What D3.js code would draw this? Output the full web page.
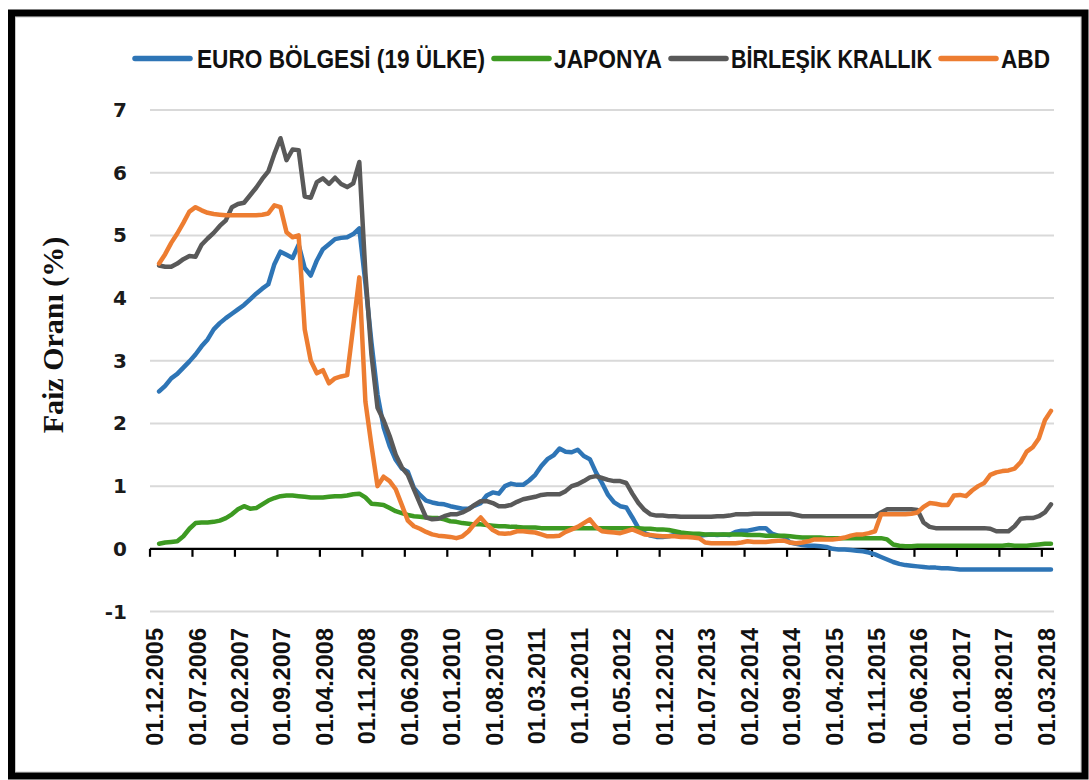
<!DOCTYPE html>
<html><head><meta charset="utf-8">
<script src="https://cdn.jsdelivr.net/npm/d3@7"></script>
<style>html,body{margin:0;padding:0;background:#fff;} svg{display:block}</style>
</head><body>
<svg id="chart" width="1089" height="780"></svg>
<script>
const categories = [
"01.12.2005",
"01.01.2006","01.02.2006","01.03.2006","01.04.2006","01.05.2006","01.06.2006","01.07.2006","01.08.2006","01.09.2006","01.10.2006","01.11.2006","01.12.2006",
"01.01.2007","01.02.2007","01.03.2007","01.04.2007","01.05.2007","01.06.2007","01.07.2007","01.08.2007","01.09.2007","01.10.2007","01.11.2007","01.12.2007",
"01.01.2008","01.02.2008","01.03.2008","01.04.2008","01.05.2008","01.06.2008","01.07.2008","01.08.2008","01.09.2008","01.10.2008","01.11.2008","01.12.2008",
"01.01.2009","01.02.2009","01.03.2009","01.04.2009","01.05.2009","01.06.2009","01.07.2009","01.08.2009","01.09.2009","01.10.2009","01.11.2009","01.12.2009",
"01.01.2010","01.02.2010","01.03.2010","01.04.2010","01.05.2010","01.06.2010","01.07.2010","01.08.2010","01.09.2010","01.10.2010","01.11.2010","01.12.2010",
"01.01.2011","01.02.2011","01.03.2011","01.04.2011","01.05.2011","01.06.2011","01.07.2011","01.08.2011","01.09.2011","01.10.2011","01.11.2011","01.12.2011",
"01.01.2012","01.02.2012","01.03.2012","01.04.2012","01.05.2012","01.06.2012","01.07.2012","01.08.2012","01.09.2012","01.10.2012","01.11.2012","01.12.2012",
"01.01.2013","01.02.2013","01.03.2013","01.04.2013","01.05.2013","01.06.2013","01.07.2013","01.08.2013","01.09.2013","01.10.2013","01.11.2013","01.12.2013",
"01.01.2014","01.02.2014","01.03.2014","01.04.2014","01.05.2014","01.06.2014","01.07.2014","01.08.2014","01.09.2014","01.10.2014","01.11.2014","01.12.2014",
"01.01.2015","01.02.2015","01.03.2015","01.04.2015","01.05.2015","01.06.2015","01.07.2015","01.08.2015","01.09.2015","01.10.2015","01.11.2015","01.12.2015",
"01.01.2016","01.02.2016","01.03.2016","01.04.2016","01.05.2016","01.06.2016","01.07.2016","01.08.2016","01.09.2016","01.10.2016","01.11.2016","01.12.2016",
"01.01.2017","01.02.2017","01.03.2017","01.04.2017","01.05.2017","01.06.2017","01.07.2017","01.08.2017","01.09.2017","01.10.2017","01.11.2017","01.12.2017",
"01.01.2018","01.02.2018","01.03.2018","01.04.2018"
];

const tickLabels = ["01.12.2005","01.07.2006","01.02.2007","01.09.2007","01.04.2008","01.11.2008",
"01.06.2009","01.01.2010","01.08.2010","01.03.2011","01.10.2011","01.05.2012","01.12.2012",
"01.07.2013","01.02.2014","01.09.2014","01.04.2015","01.11.2015","01.06.2016","01.01.2017",
"01.08.2017","01.03.2018"];

const yTicks = [-1, 0, 1, 2, 3, 4, 5, 6, 7];

const seriesNames = ["EURO BÖLGESİ (19 ÜLKE)", "JAPONYA", "BİRLEŞİK KRALLIK", "ABD"];

const euro = [null,
2.51,2.60,2.72,2.79,2.89,2.99,3.10,3.23,3.34,3.50,3.60,3.68,
3.75,3.82,3.89,3.98,4.07,4.15,4.22,4.54,4.74,4.69,4.64,4.85,
4.48,4.36,4.60,4.78,4.86,4.94,4.96,4.97,5.02,5.11,4.24,3.29,
2.46,1.94,1.64,1.42,1.28,1.23,0.97,0.86,0.77,0.74,0.72,0.71,
0.68,0.66,0.64,0.64,0.69,0.73,0.85,0.90,0.88,1.00,1.04,1.02,
1.02,1.09,1.18,1.32,1.43,1.49,1.60,1.55,1.54,1.58,1.48,1.43,
1.22,1.05,0.86,0.74,0.68,0.66,0.50,0.33,0.25,0.21,0.19,0.19,
0.20,0.22,0.21,0.21,0.20,0.21,0.22,0.23,0.22,0.23,0.22,0.27,
0.29,0.29,0.31,0.33,0.33,0.24,0.21,0.19,0.10,0.08,0.06,0.05,
0.05,0.04,0.03,0.00,-0.01,-0.01,-0.02,-0.03,-0.04,-0.06,-0.09,-0.13,
-0.17,-0.21,-0.24,-0.26,-0.27,-0.28,-0.29,-0.30,-0.30,-0.31,-0.31,-0.32,
-0.33,-0.33,-0.33,-0.33,-0.33,-0.33,-0.33,-0.33,-0.33,-0.33,-0.33,-0.33,
-0.33,-0.33,-0.33,-0.33];

const japan = [null,
0.08,0.10,0.11,0.12,0.20,0.32,0.41,0.42,0.42,0.43,0.45,0.49,
0.55,0.63,0.68,0.64,0.65,0.71,0.77,0.81,0.84,0.85,0.85,0.84,
0.83,0.82,0.82,0.82,0.83,0.84,0.84,0.85,0.87,0.88,0.82,0.72,
0.71,0.70,0.65,0.60,0.57,0.54,0.52,0.51,0.50,0.49,0.49,0.47,
0.44,0.43,0.41,0.40,0.39,0.39,0.38,0.37,0.36,0.36,0.35,0.35,
0.34,0.34,0.34,0.33,0.33,0.33,0.33,0.33,0.33,0.33,0.33,0.33,
0.33,0.33,0.33,0.33,0.33,0.33,0.33,0.33,0.32,0.32,0.31,0.31,
0.30,0.28,0.26,0.25,0.24,0.24,0.23,0.23,0.23,0.23,0.23,0.23,
0.23,0.22,0.22,0.22,0.21,0.21,0.21,0.21,0.20,0.19,0.18,0.18,
0.18,0.18,0.17,0.17,0.17,0.17,0.17,0.17,0.17,0.17,0.17,0.17,
0.15,0.07,0.05,0.04,0.04,0.05,0.05,0.05,0.05,0.05,0.05,0.05,
0.05,0.05,0.05,0.05,0.05,0.05,0.05,0.05,0.06,0.05,0.05,0.05,
0.06,0.07,0.08,0.08];

const uk = [null,
4.52,4.50,4.50,4.55,4.62,4.67,4.66,4.85,4.95,5.04,5.15,5.24,
5.45,5.50,5.52,5.64,5.76,5.90,6.02,6.30,6.55,6.20,6.37,6.36,
5.62,5.60,5.85,5.91,5.82,5.92,5.82,5.77,5.83,6.17,4.40,3.10,
2.25,2.05,1.80,1.50,1.30,1.18,0.95,0.72,0.50,0.47,0.48,0.52,
0.55,0.55,0.58,0.63,0.70,0.76,0.76,0.73,0.68,0.68,0.70,0.75,
0.79,0.81,0.83,0.86,0.87,0.87,0.87,0.92,1.00,1.03,1.08,1.14,
1.16,1.13,1.10,1.08,1.08,1.05,0.88,0.73,0.62,0.55,0.53,0.53,
0.52,0.52,0.51,0.51,0.51,0.51,0.51,0.51,0.52,0.52,0.53,0.55,
0.55,0.55,0.56,0.56,0.56,0.56,0.56,0.56,0.56,0.54,0.52,0.52,
0.52,0.52,0.52,0.52,0.52,0.52,0.52,0.52,0.52,0.52,0.52,0.58,
0.63,0.63,0.63,0.63,0.63,0.62,0.42,0.35,0.33,0.33,0.33,0.33,
0.33,0.33,0.33,0.33,0.33,0.32,0.28,0.28,0.28,0.36,0.48,0.49,
0.49,0.52,0.58,0.71];

const usa = [null,
4.55,4.70,4.88,5.03,5.20,5.38,5.45,5.40,5.36,5.34,5.33,5.32,
5.32,5.32,5.32,5.32,5.32,5.33,5.35,5.48,5.45,5.05,4.97,5.00,
3.50,3.00,2.80,2.85,2.64,2.72,2.75,2.77,3.55,4.33,2.35,1.65,
1.00,1.15,1.08,0.95,0.70,0.45,0.36,0.32,0.27,0.23,0.21,0.20,
0.19,0.17,0.20,0.28,0.40,0.50,0.39,0.30,0.25,0.24,0.25,0.28,
0.28,0.27,0.26,0.23,0.20,0.20,0.21,0.27,0.31,0.35,0.41,0.47,
0.35,0.28,0.27,0.26,0.25,0.28,0.31,0.27,0.23,0.22,0.21,0.20,
0.20,0.20,0.19,0.19,0.18,0.17,0.10,0.09,0.09,0.09,0.09,0.09,
0.10,0.12,0.11,0.11,0.11,0.12,0.13,0.13,0.10,0.09,0.10,0.12,
0.15,0.15,0.15,0.15,0.16,0.18,0.21,0.23,0.23,0.25,0.28,0.55,
0.55,0.55,0.55,0.55,0.56,0.58,0.67,0.73,0.72,0.70,0.70,0.85,
0.86,0.84,0.93,1.00,1.05,1.18,1.22,1.24,1.25,1.28,1.38,1.55,
1.62,1.76,2.05,2.20];

const seriesValues = [euro, japan, uk, usa];
const colors = ["#2E75B6", "#3D9A22", "#595959", "#ED7D31"];

// layout
const W = 1089, H = 780;
const plot = {left: 150, right: 1054, top: 110, bottom: 611.5};
const svg = d3.select("#chart");

const x = d3.scaleBand().domain(categories).range([plot.left, plot.right]).paddingInner(0).paddingOuter(0);
const bw = x.bandwidth();
const y = d3.scaleLinear().domain([-1, 7]).range([plot.bottom, plot.top]);

// background
svg.append("rect").attr("x",0).attr("y",0).attr("width",W).attr("height",H).attr("fill","#fff");

// gridlines
svg.append("g").selectAll("line").data(yTicks.filter(v => v !== 0)).join("line")
  .attr("x1", plot.left).attr("x2", plot.right)
  .attr("y1", d => y(d)).attr("y2", d => y(d))
  .attr("stroke", "#d9d9d9").attr("stroke-width", 2);

// y tick labels
svg.append("g").selectAll("text").data(yTicks).join("text")
  .attr("x", 127).attr("y", d => y(d))
  .attr("text-anchor", "end").attr("dominant-baseline", "central")
  .attr("font-family", "'DejaVu Sans', sans-serif").attr("font-weight", "bold")
  .attr("font-size", 20).attr("fill", "#1a1a1a")
  .text(d => d);

// x axis line at zero
const y0 = y(0);
svg.append("line").attr("x1", plot.left).attr("x2", plot.right)
  .attr("y1", y0).attr("y2", y0).attr("stroke", "#000").attr("stroke-width", 2.2);
svg.append("g").selectAll("line").data(tickLabels).join("line")
  .attr("x1", d => x(d)).attr("x2", d => x(d))
  .attr("y1", y0).attr("y2", y0 + 8)
  .attr("stroke", "#000").attr("stroke-width", 2.2);

// x tick labels (rotated)
svg.append("g").selectAll("text").data(tickLabels).join("text")
  .attr("transform", d => `translate(${x(d) + bw/2 + 10},628) rotate(-90)`)
  .attr("text-anchor", "end")
  .attr("font-family", "'Liberation Sans', Arial, sans-serif").attr("font-weight", "bold")
  .attr("font-size", 23.5).attr("fill", "#111")
  .text(d => d);

// y axis title
svg.append("text")
  .attr("transform", "translate(63,335) rotate(-90)")
  .attr("text-anchor", "middle")
  .attr("font-family", "'Liberation Serif', 'Times New Roman', serif").attr("font-weight", "bold")
  .attr("font-size", 30).attr("fill", "#111")
  .text("Faiz Oranı (%)");

// series lines
const line = d3.line()
  .defined(d => d != null)
  .x((d, i) => x(categories[i]) + bw/2)
  .y(d => y(d));

svg.append("g").selectAll("path").data(seriesValues).join("path")
  .attr("d", d => line(d))
  .attr("fill", "none")
  .attr("stroke", (d, i) => colors[i])
  .attr("stroke-width", 4.5)
  .attr("stroke-linejoin", "round")
  .attr("stroke-linecap", "round");

// legend
const legendLineX = [133, 492, 669, 939];
const legendTextX = [197, 554, 731, 1001];
const legendTextW = [288, 108, 201, 49];
const lg = svg.append("g");
seriesNames.forEach((name, i) => {
  lg.append("line")
    .attr("x1", legendLineX[i] + 2).attr("x2", legendLineX[i] + 57)
    .attr("y1", 58.5).attr("y2", 58.5)
    .attr("stroke", colors[i]).attr("stroke-width", 5.5).attr("stroke-linecap", "round");
  lg.append("text")
    .attr("x", legendTextX[i]).attr("y", 67.5)
    .attr("font-family", "'Liberation Sans', Arial, sans-serif").attr("font-weight", "bold")
    .attr("font-size", 25).attr("fill", "#111")
    .attr("textLength", legendTextW[i]).attr("lengthAdjust", "spacingAndGlyphs")
    .text(name);
});

// frame
svg.append("rect").attr("x", 15.5).attr("y", 17).attr("width", 1065.5).attr("height", 755)
  .attr("fill", "none").attr("stroke", "#c8c8c8").attr("stroke-width", 1);
svg.append("rect").attr("x", 11.5).attr("y", 13).attr("width", 1073.5).attr("height", 763)
  .attr("fill", "none").attr("stroke", "#000").attr("stroke-width", 7);
</script>
</body></html>
